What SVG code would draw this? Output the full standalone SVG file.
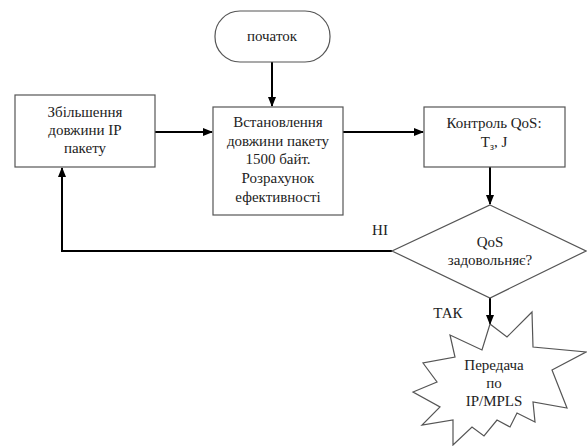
<svg xmlns="http://www.w3.org/2000/svg" width="587" height="446" viewBox="0 0 587 446">
<defs>
<marker id="arr" markerWidth="10" markerHeight="10" refX="9" refY="5" orient="auto" markerUnits="userSpaceOnUse">
<path d="M0,1 L10,5 L0,9 Z" fill="#000"/>
</marker>
<style>
.shape{fill:#fff;stroke:#555;stroke-width:1.2}
text{font-family:'Liberation Serif','DejaVu Serif','Times New Roman',serif;font-size:15px;fill:#222;text-anchor:middle}
.c{fill:none;stroke:#000;stroke-width:2}
</style>
</defs>
<rect width="587" height="446" fill="#fff"/>
<g id="connectors">
<line class="c" x1="272" y1="62" x2="272" y2="106" marker-end="url(#arr)"/>
<line class="c" x1="155" y1="132" x2="212" y2="132" marker-end="url(#arr)"/>
<line class="c" x1="343" y1="132" x2="423" y2="132" marker-end="url(#arr)"/>
<line class="c" x1="490" y1="167" x2="490" y2="204" marker-end="url(#arr)"/>
<polyline class="c" points="392,251 62,251 62,168" marker-end="url(#arr)"/>
<line class="c" x1="490" y1="298" x2="490" y2="324" marker-end="url(#arr)"/>
<text x="380" y="235">НІ</text>
<text x="448" y="318">ТАК</text>
</g>
<g id="start">
<rect class="shape" x="215" y="11" width="115" height="51" rx="25" ry="25"/>
<text x="272" y="41">початок</text>
</g>
<g id="increase">
<rect class="shape" x="15" y="95" width="140" height="72"/>
<text x="85" y="117">Збільшення</text>
<text x="85" y="135">довжини IP</text>
<text x="85" y="153">пакету</text>
</g>
<g id="set">
<rect class="shape" x="213" y="107" width="130" height="108"/>
<text x="278" y="127">Встановлення</text>
<text x="278" y="146">довжини пакету</text>
<text x="278" y="164">1500 байт.</text>
<text x="278" y="183">Розрахунок</text>
<text x="278" y="202">ефективності</text>
</g>
<g id="control">
<rect class="shape" x="424" y="107" width="141" height="60"/>
<text x="494" y="128">Контроль QoS:</text>
<text x="494" y="147">T<tspan font-size="10" dy="3">з</tspan><tspan dy="-3">, J</tspan></text>
</g>
<g id="decision">
<polygon class="shape" points="490,205 586,251 490,298 392,251"/>
<text x="490" y="247">QoS</text>
<text x="490" y="265">задовольняє?</text>
</g>
<g id="transmit">
<polygon class="shape" points="490,324 507,337 532,312 533,347 586,352 552,370 567,408 533,402 535,422 517,413 510,427 497,420 484,436 472,427 453,445 453,420 422,425 440,407 413,392 437,382 423,363 455,357 450,335 482,350"/>
<text x="494" y="370">Передача</text>
<text x="494" y="388">по</text>
<text x="494" y="406">IP/MPLS</text>
</g>
</svg>
